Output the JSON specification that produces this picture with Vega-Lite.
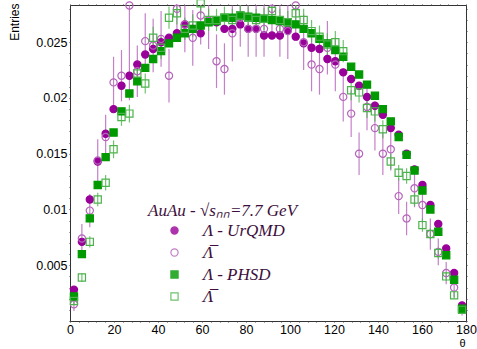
{
  "$schema": "https://vega.github.io/schema/vega-lite/v6.json",
  "width": 396,
  "height": 316,
  "autosize": {"type": "none"},
  "padding": {"left": 70, "top": 5, "right": 11, "bottom": 28},
  "background": "white",
  "config": {"view": {"stroke": "#333333", "strokeWidth": 1}},
  "data": {"values": [
    {"s":"a","t":1.8,"v":0.0028,"e":0.0002},{"s":"a","t":5.4,"v":0.0071,"e":0.0002},{"s":"a","t":9,"v":0.0109,"e":0.0002},{"s":"a","t":12.6,"v":0.0143,"e":0.0002},{"s":"a","t":16.2,"v":0.0168,"e":0.0002},{"s":"a","t":19.8,"v":0.0190,"e":0.0002},{"s":"a","t":23.4,"v":0.0211,"e":0.0002},{"s":"a","t":27,"v":0.0220,"e":0.0002},{"s":"a","t":30.6,"v":0.0230,"e":0.0002},{"s":"a","t":34.2,"v":0.0239,"e":0.0002},
    {"s":"a","t":37.8,"v":0.0244,"e":0.0002},{"s":"a","t":41.4,"v":0.0250,"e":0.0002},{"s":"a","t":45,"v":0.0254,"e":0.0002},{"s":"a","t":48.6,"v":0.0258,"e":0.0002},{"s":"a","t":52.2,"v":0.0266,"e":0.0002},{"s":"a","t":55.8,"v":0.0262,"e":0.0002},{"s":"a","t":59.4,"v":0.0258,"e":0.0002},{"s":"a","t":63,"v":0.0269,"e":0.0002},{"s":"a","t":66.6,"v":0.0268,"e":0.0002},{"s":"a","t":70.2,"v":0.0262,"e":0.0002},
    {"s":"a","t":73.8,"v":0.0262,"e":0.0002},{"s":"a","t":77.4,"v":0.0266,"e":0.0002},{"s":"a","t":81,"v":0.0262,"e":0.0002},{"s":"a","t":84.6,"v":0.0262,"e":0.0002},{"s":"a","t":88.2,"v":0.0256,"e":0.0002},{"s":"a","t":91.8,"v":0.0256,"e":0.0002},{"s":"a","t":95.4,"v":0.0256,"e":0.0002},{"s":"a","t":99,"v":0.0261,"e":0.0002},{"s":"a","t":102.6,"v":0.0255,"e":0.0002},{"s":"a","t":106.2,"v":0.0249,"e":0.0002},
    {"s":"a","t":109.8,"v":0.0245,"e":0.0002},{"s":"a","t":113.4,"v":0.0244,"e":0.0002},{"s":"a","t":117,"v":0.0235,"e":0.0002},{"s":"a","t":120.6,"v":0.0233,"e":0.0002},{"s":"a","t":124.2,"v":0.0223,"e":0.0002},{"s":"a","t":127.8,"v":0.0217,"e":0.0002},{"s":"a","t":131.4,"v":0.0211,"e":0.0002},{"s":"a","t":135,"v":0.0201,"e":0.0002},{"s":"a","t":138.6,"v":0.0193,"e":0.0002},{"s":"a","t":142.2,"v":0.0185,"e":0.0002},
    {"s":"a","t":145.8,"v":0.0173,"e":0.0002},{"s":"a","t":149.4,"v":0.0167,"e":0.0002},{"s":"a","t":153,"v":0.0150,"e":0.0002},{"s":"a","t":156.6,"v":0.0136,"e":0.0002},{"s":"a","t":160.2,"v":0.0122,"e":0.0002},{"s":"a","t":163.8,"v":0.0104,"e":0.0002},{"s":"a","t":167.4,"v":0.0087,"e":0.0002},{"s":"a","t":171,"v":0.0065,"e":0.0002},{"s":"a","t":174.6,"v":0.0043,"e":0.0002},{"s":"a","t":178.2,"v":0.0014,"e":0.0002},

    {"s":"b","t":1.8,"v":0.0015,"e":0.0006},{"s":"b","t":5.4,"v":0.0074,"e":0.0013},{"s":"b","t":9,"v":0.0099,"e":0.0015},{"s":"b","t":12.6,"v":0.0144,"e":0.0019},{"s":"b","t":16.2,"v":0.0165,"e":0.0020},{"s":"b","t":19.8,"v":0.0214,"e":0.0023},{"s":"b","t":23.4,"v":0.0220,"e":0.0023},{"s":"b","t":27,"v":0.0283,"e":0.0085},{"s":"b","t":30.6,"v":0.0224,"e":0.0023},{"s":"b","t":34.2,"v":0.0251,"e":0.0025},
    {"s":"b","t":37.8,"v":0.0247,"e":0.0024},{"s":"b","t":41.4,"v":0.0253,"e":0.0025},{"s":"b","t":45,"v":0.0220,"e":0.0024},{"s":"b","t":48.6,"v":0.0280,"e":0.0026},{"s":"b","t":52.2,"v":0.0266,"e":0.0025},{"s":"b","t":55.8,"v":0.0254,"e":0.0025},{"s":"b","t":59.4,"v":0.0274,"e":0.0026},{"s":"b","t":63,"v":0.0269,"e":0.0025},{"s":"b","t":66.6,"v":0.0233,"e":0.0024},{"s":"b","t":70.2,"v":0.0226,"e":0.0023},
    {"s":"b","t":73.8,"v":0.0258,"e":0.0025},{"s":"b","t":77.4,"v":0.0272,"e":0.0026},{"s":"b","t":81,"v":0.0262,"e":0.0025},{"s":"b","t":84.6,"v":0.0262,"e":0.0025},{"s":"b","t":88.2,"v":0.0262,"e":0.0025},{"s":"b","t":91.8,"v":0.0280,"e":0.0026},{"s":"b","t":95.4,"v":0.0262,"e":0.0025},{"s":"b","t":99,"v":0.0260,"e":0.0025},{"s":"b","t":102.6,"v":0.0283,"e":0.0026},{"s":"b","t":106.2,"v":0.0250,"e":0.0025},
    {"s":"b","t":109.8,"v":0.0230,"e":0.0024},{"s":"b","t":113.4,"v":0.0226,"e":0.0023},{"s":"b","t":117,"v":0.0245,"e":0.0024},{"s":"b","t":120.6,"v":0.0230,"e":0.0024},{"s":"b","t":124.2,"v":0.0201,"e":0.0022},{"s":"b","t":127.8,"v":0.0186,"e":0.0021},{"s":"b","t":131.4,"v":0.0150,"e":0.0019},{"s":"b","t":135,"v":0.0192,"e":0.0021},{"s":"b","t":138.6,"v":0.0173,"e":0.0020},{"s":"b","t":142.2,"v":0.0150,"e":0.0019},
    {"s":"b","t":145.8,"v":0.0154,"e":0.0019},{"s":"b","t":149.4,"v":0.0112,"e":0.0016},{"s":"b","t":153,"v":0.0092,"e":0.0015},{"s":"b","t":156.6,"v":0.0119,"e":0.0017},{"s":"b","t":160.2,"v":0.0104,"e":0.0016},{"s":"b","t":163.8,"v":0.0078,"e":0.0014},{"s":"b","t":167.4,"v":0.0062,"e":0.0012},{"s":"b","t":171,"v":0.0043,"e":0.0010},{"s":"b","t":174.6,"v":0.0030,"e":0.0009},{"s":"b","t":178.2,"v":0.0010,"e":0.0005},

    {"s":"c","t":1.8,"v":0.0022,"e":0.0002},{"s":"c","t":5.4,"v":0.0060,"e":0.0002},{"s":"c","t":9,"v":0.0092,"e":0.0002},{"s":"c","t":12.6,"v":0.0122,"e":0.0002},{"s":"c","t":16.2,"v":0.0147,"e":0.0002},{"s":"c","t":19.8,"v":0.0169,"e":0.0002},{"s":"c","t":23.4,"v":0.0188,"e":0.0002},{"s":"c","t":27,"v":0.0204,"e":0.0002},{"s":"c","t":30.6,"v":0.0215,"e":0.0002},{"s":"c","t":34.2,"v":0.0227,"e":0.0002},
    {"s":"c","t":37.8,"v":0.0235,"e":0.0002},{"s":"c","t":41.4,"v":0.0242,"e":0.0002},{"s":"c","t":45,"v":0.0249,"e":0.0002},{"s":"c","t":48.6,"v":0.0254,"e":0.0002},{"s":"c","t":52.2,"v":0.0258,"e":0.0002},{"s":"c","t":55.8,"v":0.0262,"e":0.0002},{"s":"c","t":59.4,"v":0.0265,"e":0.0002},{"s":"c","t":63,"v":0.0268,"e":0.0002},{"s":"c","t":66.6,"v":0.0269,"e":0.0002},{"s":"c","t":70.2,"v":0.0272,"e":0.0002},
    {"s":"c","t":73.8,"v":0.0272,"e":0.0002},{"s":"c","t":77.4,"v":0.0274,"e":0.0002},{"s":"c","t":81,"v":0.0273,"e":0.0002},{"s":"c","t":84.6,"v":0.0272,"e":0.0002},{"s":"c","t":88.2,"v":0.0271,"e":0.0002},{"s":"c","t":91.8,"v":0.0270,"e":0.0002},{"s":"c","t":95.4,"v":0.0269,"e":0.0002},{"s":"c","t":99,"v":0.0268,"e":0.0002},{"s":"c","t":102.6,"v":0.0266,"e":0.0002},{"s":"c","t":106.2,"v":0.0262,"e":0.0002},
    {"s":"c","t":109.8,"v":0.0258,"e":0.0002},{"s":"c","t":113.4,"v":0.0253,"e":0.0002},{"s":"c","t":117,"v":0.0249,"e":0.0002},{"s":"c","t":120.6,"v":0.0243,"e":0.0002},{"s":"c","t":124.2,"v":0.0237,"e":0.0002},{"s":"c","t":127.8,"v":0.0228,"e":0.0002},{"s":"c","t":131.4,"v":0.0221,"e":0.0002},{"s":"c","t":135,"v":0.0212,"e":0.0002},{"s":"c","t":138.6,"v":0.0202,"e":0.0002},{"s":"c","t":142.2,"v":0.0190,"e":0.0002},
    {"s":"c","t":145.8,"v":0.0179,"e":0.0002},{"s":"c","t":149.4,"v":0.0165,"e":0.0002},{"s":"c","t":153,"v":0.0149,"e":0.0002},{"s":"c","t":156.6,"v":0.0135,"e":0.0002},{"s":"c","t":160.2,"v":0.0117,"e":0.0002},{"s":"c","t":163.8,"v":0.0100,"e":0.0002},{"s":"c","t":167.4,"v":0.0080,"e":0.0002},{"s":"c","t":171,"v":0.0059,"e":0.0002},{"s":"c","t":174.6,"v":0.0037,"e":0.0002},{"s":"c","t":178.2,"v":0.0011,"e":0.0002},

    {"s":"d","t":1.8,"v":0.0018,"e":0.0003},{"s":"d","t":5.4,"v":0.0039,"e":0.0004},{"s":"d","t":9,"v":0.0071,"e":0.0005},{"s":"d","t":12.6,"v":0.0109,"e":0.0006},{"s":"d","t":16.2,"v":0.0124,"e":0.0007},{"s":"d","t":19.8,"v":0.0154,"e":0.0008},{"s":"d","t":23.4,"v":0.0183,"e":0.0008},{"s":"d","t":27,"v":0.0186,"e":0.0008},{"s":"d","t":30.6,"v":0.0222,"e":0.0009},{"s":"d","t":34.2,"v":0.0213,"e":0.0009},
    {"s":"d","t":37.8,"v":0.0254,"e":0.0010},{"s":"d","t":41.4,"v":0.0245,"e":0.0010},{"s":"d","t":45,"v":0.0272,"e":0.0010},{"s":"d","t":48.6,"v":0.0276,"e":0.0010},{"s":"d","t":52.2,"v":0.0262,"e":0.0010},{"s":"d","t":55.8,"v":0.0265,"e":0.0010},{"s":"d","t":59.4,"v":0.0285,"e":0.0010},{"s":"d","t":63,"v":0.0270,"e":0.0010},{"s":"d","t":66.6,"v":0.0270,"e":0.0010},{"s":"d","t":70.2,"v":0.0272,"e":0.0010},
    {"s":"d","t":73.8,"v":0.0270,"e":0.0010},{"s":"d","t":77.4,"v":0.0274,"e":0.0010},{"s":"d","t":81,"v":0.0272,"e":0.0010},{"s":"d","t":84.6,"v":0.0270,"e":0.0010},{"s":"d","t":88.2,"v":0.0271,"e":0.0010},{"s":"d","t":91.8,"v":0.0278,"e":0.0010},{"s":"d","t":95.4,"v":0.0270,"e":0.0010},{"s":"d","t":99,"v":0.0268,"e":0.0010},{"s":"d","t":102.6,"v":0.0276,"e":0.0010},{"s":"d","t":106.2,"v":0.0270,"e":0.0010},
    {"s":"d","t":109.8,"v":0.0260,"e":0.0010},{"s":"d","t":113.4,"v":0.0255,"e":0.0010},{"s":"d","t":117,"v":0.0248,"e":0.0010},{"s":"d","t":120.6,"v":0.0250,"e":0.0010},{"s":"d","t":124.2,"v":0.0242,"e":0.0010},{"s":"d","t":127.8,"v":0.0207,"e":0.0009},{"s":"d","t":131.4,"v":0.0205,"e":0.0009},{"s":"d","t":135,"v":0.0191,"e":0.0009},{"s":"d","t":138.6,"v":0.0188,"e":0.0009},{"s":"d","t":142.2,"v":0.0172,"e":0.0008},
    {"s":"d","t":145.8,"v":0.0143,"e":0.0007},{"s":"d","t":149.4,"v":0.0133,"e":0.0007},{"s":"d","t":153,"v":0.0130,"e":0.0007},{"s":"d","t":156.6,"v":0.0109,"e":0.0006},{"s":"d","t":160.2,"v":0.0086,"e":0.0006},{"s":"d","t":163.8,"v":0.0078,"e":0.0005},{"s":"d","t":167.4,"v":0.0061,"e":0.0005},{"s":"d","t":171,"v":0.0040,"e":0.0004},{"s":"d","t":174.6,"v":0.0023,"e":0.0003},{"s":"d","t":178.2,"v":0.0010,"e":0.0002}
  ]},
  "resolve": {"axis": {"x": "independent", "y": "independent"}},
  "layer": [
    {
      "mark": {"type": "errorbar", "ticks": false, "thickness": 1.2, "clip": true, "opacity": 0.8},
      "encoding": {
        "x": {"field": "t", "type": "quantitative", "scale": {"domain": [0, 180], "nice": false, "zero": false}, "axis": null},
        "y": {"field": "v", "type": "quantitative", "scale": {"domain": [0, 0.02834], "nice": false}, "axis": null},
        "yError": {"field": "e"},
        "color": {"field": "s", "type": "nominal", "scale": {"domain": ["a", "b", "c", "d"], "range": ["#990099", "#b462ba", "#009900", "#4cb34c"]}}
      }
    },
    {
      "mark": {"type": "point", "strokeWidth": 1.2, "opacity": 1},
      "encoding": {
        "x": {"field": "t", "type": "quantitative", "scale": {"domain": [0, 180], "nice": false, "zero": false},
          "axis": {"orient": "bottom", "values": [0,4,8,12,16,20,24,28,32,36,40,44,48,52,56,60,64,68,72,76,80,84,88,92,96,100,104,108,112,116,120,124,128,132,136,140,144,148,152,156,160,164,168,172,176,180],
            "format": "d", "labelExpr": "datum.value % 20 == 0 ? datum.label : ''", "domain": false, "grid": false, "tickSize": 1, "tickColor": "#444444", "tickWidth": 1,
            "labelPadding": 1, "labelFont": "Liberation Sans", "labelFontSize": 12.5, "labelColor": "#000000", "labelFlush": false, "labelOverlap": false,
            "title": "θ", "titleFont": "Liberation Sans", "titleFontSize": 11, "titleFontWeight": "normal", "titleColor": "#000000", "titleX": 392, "titleY": 22, "titleAlign": "center", "titleBaseline": "middle", "titleAngle": 0,
            "encode": {"ticks": {"update": {"y2": {"signal": "datum.value % 20 == 0 ? -10 : -5"}}}}}},
        "y": {"field": "v", "type": "quantitative", "scale": {"domain": [0, 0.02834], "nice": false},
          "axis": {"orient": "left", "values": [0,0.001,0.002,0.003,0.004,0.005,0.006,0.007,0.008,0.009,0.01,0.011,0.012,0.013,0.014,0.015,0.016,0.017,0.018,0.019,0.02,0.021,0.022,0.023,0.024,0.025,0.026,0.027,0.028],
            "format": "~g", "labelExpr": "round(datum.value*1000) % 5 == 0 && datum.value > 0 ? datum.label : ''", "domain": false, "grid": false, "tickSize": 1, "tickColor": "#444444", "tickWidth": 1,
            "labelPadding": 2, "labelFont": "Liberation Sans", "labelFontSize": 12.5, "labelColor": "#000000", "labelOverlap": false, "labelFlush": false,
            "title": "Entries", "titleFont": "Liberation Sans", "titleFontSize": 12, "titleFontWeight": "normal", "titleColor": "#000000", "titleX": -56, "titleY": -2, "titleAngle": -90, "titleAlign": "right", "titleBaseline": "middle",
            "encode": {"ticks": {"update": {"x2": {"signal": "round(datum.value*1000) % 5 == 0 ? 11 : 5.5"}}}}}},
        "color": {"field": "s", "type": "nominal", "scale": {"domain": ["a", "b", "c", "d"], "range": ["#990099", "#b462ba", "#009900", "#4cb34c"]},
          "legend": {"orient": "none", "legendX": 78, "legendY": 198, "padding": 0,
            "title": "AuAu - √sₙₙ=7.7 GeV", "titleFont": "Liberation Serif", "titleFontStyle": "italic", "titleFontWeight": "normal", "titleFontSize": 17, "titleColor": "#3c0f3c", "titlePadding": 2,
            "labelFont": "Liberation Serif", "labelFontStyle": "italic", "labelFontSize": 17, "labelColor": "#3c0f3c",
            "labelExpr": "datum.value == 'a' ? 'Λ - UrQMD' : datum.value == 'c' ? 'Λ - PHSD' : 'Λ̅'",
            "symbolSize": 70, "symbolOffset": 18, "labelOffset": 20, "rowPadding": 4, "symbolStrokeWidth": 1.2, "symbolOpacity": 1}},
        "fill": {"field": "s", "type": "nominal", "scale": {"domain": ["a", "b", "c", "d"], "range": ["#990099", "transparent", "#009900", "transparent"]}, "legend": null},
        "shape": {"field": "s", "type": "nominal", "scale": {"domain": ["a", "b", "c", "d"], "range": ["circle", "circle", "square", "square"]}, "legend": null},
        "size": {"field": "s", "type": "nominal", "scale": {"domain": ["a", "b", "c", "d"], "range": [52, 52, 50, 50]}, "legend": null}
      }
    },
    {
      "mark": {"type": "point", "opacity": 0},
      "encoding": {
        "x": {"field": "t", "type": "quantitative", "scale": {"domain": [0, 180], "nice": false, "zero": false},
          "axis": {"orient": "top", "values": [0,4,8,12,16,20,24,28,32,36,40,44,48,52,56,60,64,68,72,76,80,84,88,92,96,100,104,108,112,116,120,124,128,132,136,140,144,148,152,156,160,164,168,172,176,180],
            "labels": false, "title": null, "domain": false, "grid": false, "tickSize": 1, "tickColor": "#444444",
            "encode": {"ticks": {"update": {"y2": {"signal": "datum.value % 20 == 0 ? 10 : 5"}}}}}},
        "y": {"field": "v", "type": "quantitative", "scale": {"domain": [0, 0.02834], "nice": false},
          "axis": {"orient": "right", "values": [0,0.001,0.002,0.003,0.004,0.005,0.006,0.007,0.008,0.009,0.01,0.011,0.012,0.013,0.014,0.015,0.016,0.017,0.018,0.019,0.02,0.021,0.022,0.023,0.024,0.025,0.026,0.027,0.028],
            "labels": false, "title": null, "domain": false, "grid": false, "tickSize": 1, "tickColor": "#444444",
            "encode": {"ticks": {"update": {"x2": {"signal": "round(datum.value*1000) % 5 == 0 ? -11 : -5.5"}}}}}}
      }
    }
  ]
}
